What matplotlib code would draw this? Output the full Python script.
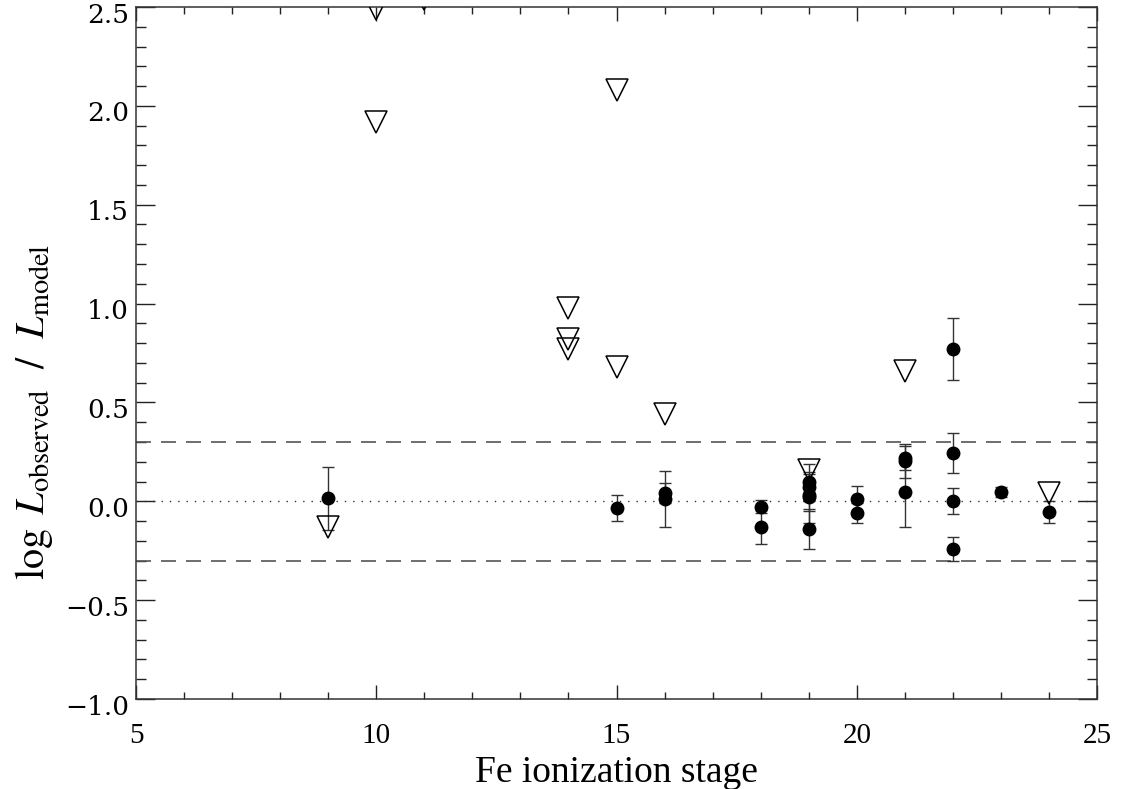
import matplotlib
matplotlib.use("Agg")
import matplotlib.pyplot as plt
import matplotlib.transforms as mtransforms
from matplotlib.ticker import MultipleLocator

# upper limits (open triangles)
lim_x = [9, 10, 10, 11, 14, 14, 14, 15, 15, 16, 19, 21, 24]
lim_y = [-0.13, 2.49, 1.92, 2.54, 0.98, 0.82, 0.77, 2.08, 0.68, 0.44, 0.16, 0.66, 0.04]

# detected lines with 1-sigma errors
det_x = [9, 15, 16, 16, 18, 18, 19, 19, 19, 19, 19, 20, 20, 21, 21, 21, 22, 22, 22, 22, 23, 24]
det_y = [0.015, -0.035, 0.04, 0.012, -0.028, -0.13, 0.10, 0.07, 0.03, 0.02, -0.14,
         0.01, -0.06, 0.22, 0.205, 0.045, 0.77, 0.245, 0.0, -0.24, 0.045, -0.055]
det_err = [0.16, 0.065, 0.05, 0.14, 0.032, 0.085, 0.09, 0.07, 0.08, 0.13, 0.10,
           0.065, 0.05, 0.06, 0.085, 0.175, 0.157, 0.10, 0.065, 0.06, 0.025, 0.055]

plt.rcParams['mathtext.fontset'] = 'stix'
plt.rcParams['font.family'] = 'Liberation Serif'

fig = plt.figure(figsize=(11.22, 7.89), dpi=100)
ax = fig.add_axes([136/1122, 90/789, 961/1122, 692/789])

ax.axhline(0.0, color='#333333', lw=1.0, ls=(0, (1, 5)))
ax.axhline(0.3, color='#555555', lw=1.2, ls=(0, (9, 6)))
ax.axhline(-0.3, color='#555555', lw=1.2, ls=(0, (9, 6)))

ax.errorbar(det_x, det_y, yerr=det_err, fmt='o', color='black', ms=9,
            ecolor='#333333', elinewidth=1.0, capsize=4, capthick=1.0, zorder=3)
ax.plot(lim_x, lim_y, 'v', ms=16.5, mfc='none', mec='black', mew=1.1, zorder=4)

ax.set_xlim(5, 25)
ax.set_ylim(-1.0, 2.5)
ax.xaxis.set_major_locator(MultipleLocator(5))
ax.xaxis.set_minor_locator(MultipleLocator(1))
ax.yaxis.set_major_locator(MultipleLocator(0.5))
ax.yaxis.set_minor_locator(MultipleLocator(0.1))
ax.yaxis.set_major_formatter(plt.FuncFormatter(lambda v, p: f"{v:.1f}".replace('-', '\u2212')))

ax.tick_params(which='both', direction='in', top=True, right=True, width=1.0, color='#222222')
ax.tick_params(axis='x', which='major', length=10, pad=17, labelsize=21)
ax.tick_params(axis='x', which='minor', length=5)
ax.tick_params(axis='y', which='major', length=14, pad=5, labelsize=19)
ax.tick_params(axis='y', which='minor', length=7)

# y tick labels sit a few pixels below their ticks
shift = mtransforms.ScaledTranslation(0, -4/72, fig.dpi_scale_trans)
for lab in ax.get_yticklabels():
    lab.set_fontfamily('DejaVu Serif')
    lab.set_transform(lab.get_transform() + shift)
for sp in ax.spines.values():
    sp.set_linewidth(1.1)
    sp.set_color('#333333')

ax.set_xlabel('Fe ionization stage', fontsize=27)
ax.xaxis.set_label_coords(0.5, -0.081)
ax.set_ylabel(r'$\log\ L_{\rm observed}\ \ /\ \ L_{\rm model}$', fontsize=29)
ax.yaxis.set_label_coords(-0.084, 0.415)

fig.savefig('out.png', dpi=100)
